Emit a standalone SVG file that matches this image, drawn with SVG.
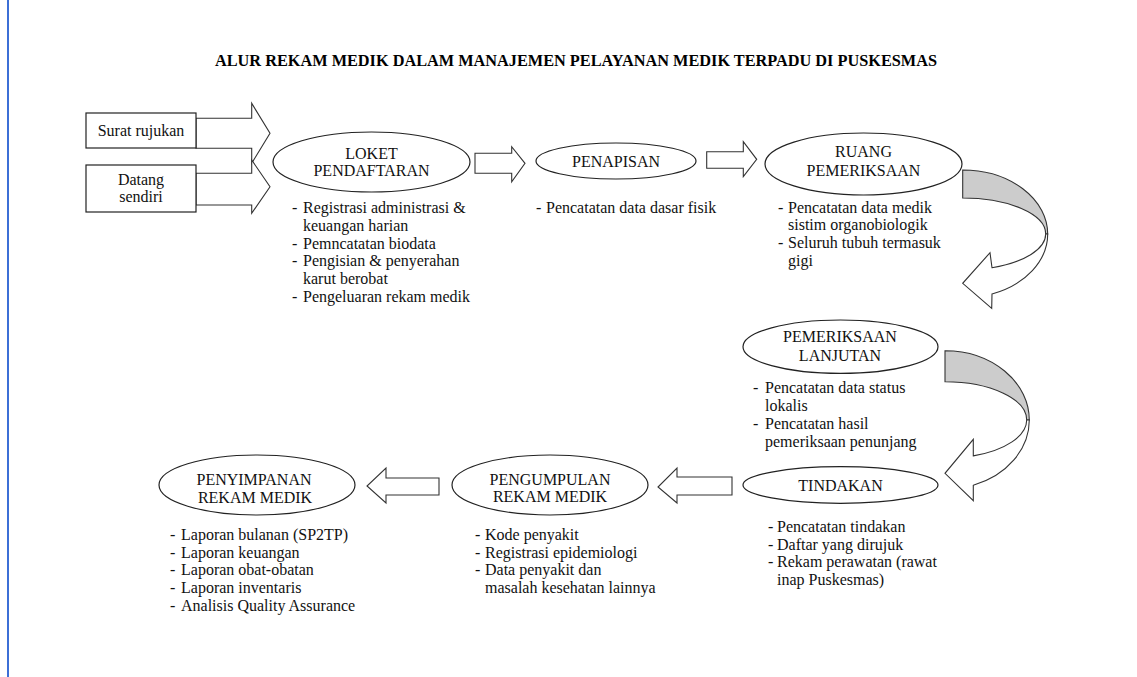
<svg xmlns="http://www.w3.org/2000/svg" width="1137" height="677" viewBox="0 0 1137 677">
<style>
  .bg { fill: #ffffff; }
  .t { font-family: "Liberation Serif", "Times New Roman", serif; font-size: 16px; fill: #111111; }
  .tc { font-family: "Liberation Serif", "Times New Roman", serif; font-size: 16px; fill: #111111; text-anchor: middle; }
  .title { font-family: "Liberation Serif", "Times New Roman", serif; font-size: 16px; font-weight: bold; fill: #000000; }
  .ell { fill: #ffffff; stroke: #222222; stroke-width: 1.2; }
  .box { fill: #ffffff; stroke: #222222; stroke-width: 1.2; }
  .arr { fill: #ffffff; stroke: #333333; stroke-width: 1.1; stroke-linejoin: miter; }
  .back { fill: #cccccc; stroke: #333333; stroke-width: 1.1; }
</style>
<rect class="bg" x="0" y="0" width="1137" height="677"/>
<line x1="8" y1="0" x2="8" y2="677" stroke="#3c6fd6" stroke-width="2"/>

<g id="title">
  <text class="title" x="215" y="66" textLength="722" lengthAdjust="spacingAndGlyphs">ALUR REKAM MEDIK DALAM MANAJEMEN PELAYANAN MEDIK TERPADU DI PUSKESMAS</text>
</g>

<g id="connectors">
  <polygon class="arr" points="196,118.3 251.7,118.3 251.7,103.3 270,133.3 251.7,163.3 251.7,148.3 196,148.3"/>
  <polygon class="arr" points="196,173.3 251.7,173.3 251.7,160 270,186.7 251.7,213.3 251.7,205 196,205"/>
  <polygon class="arr" points="475,153.3 511.7,153.3 511.7,146.7 525,163.3 511.7,181.7 511.7,173.3 475,173.3"/>
  <polygon class="arr" points="706.7,151.7 743.3,151.7 743.3,141.7 756.7,159.3 743.3,176.7 743.3,168.3 706.7,168.3"/>
  <path class="back" d="M962.7,170 A85,64 0 0 1 1047.7,234 L1045.7,234 A83,36 0 0 0 962.7,198 Z"/>
  <path class="arr" d="M1045.7,234 A83,36 0 0 1 992,267.7 L990,252.7 L962.7,283.3 L991.7,308.3 L992,294 A85,64 0 0 0 1047.7,234 Z"/>
  <path class="back" d="M945,350.7 A84.3,69.3 0 0 1 1029.3,420 L1026.7,420 A81.7,38.3 0 0 0 945,381.7 Z"/>
  <path class="arr" d="M1026.7,420 A81.7,38.3 0 0 1 973.3,455.9 L973.3,439.3 L945,473.3 L973.3,500.7 L973.3,485.3 A84.3,69.3 0 0 0 1029.3,420 Z"/>
  <polygon class="arr" points="732,477 677,477 677,468 658,487 677,503 677,495 732,495"/>
  <polygon class="arr" points="439,478 386,478 386,468 367,486 386,503 386,495 439,495"/>
</g>

<g id="node-surat-rujukan">
  <rect class="box" x="86" y="113" width="110" height="35"/>
  <text class="tc" x="141" y="135.5">Surat rujukan</text>
</g>

<g id="node-datang-sendiri">
  <rect class="box" x="86" y="165" width="110" height="47"/>
  <text class="tc" x="141" y="184.5">Datang</text>
  <text class="tc" x="141" y="202">sendiri</text>
</g>

<g id="node-loket">
  <ellipse class="ell" cx="371.5" cy="162" rx="98.5" ry="30"/>
  <text class="tc" x="371.5" y="159.3">LOKET</text>
  <text class="tc" x="371.5" y="176">PENDAFTARAN</text>
  <text class="t" x="292" y="213">-</text><text class="t" x="303" y="213">Registrasi administrasi &amp;</text>
  <text class="t" x="303" y="230.8">keuangan harian</text>
  <text class="t" x="292" y="248.6">-</text><text class="t" x="303" y="248.6">Pemncatatan biodata</text>
  <text class="t" x="292" y="266.4">-</text><text class="t" x="303" y="266.4">Pengisian &amp; penyerahan</text>
  <text class="t" x="303" y="284.2">karut berobat</text>
  <text class="t" x="292" y="302">-</text><text class="t" x="303" y="302">Pengeluaran rekam medik</text>
</g>

<g id="node-penapisan">
  <ellipse class="ell" cx="616" cy="161" rx="80" ry="18"/>
  <text class="tc" x="616" y="166.5">PENAPISAN</text>
  <text class="t" x="536" y="213">-</text><text class="t" x="546" y="213">Pencatatan data dasar fisik</text>
</g>

<g id="node-ruang">
  <ellipse class="ell" cx="863.5" cy="164" rx="98.5" ry="31"/>
  <text class="tc" x="863.5" y="157.3">RUANG</text>
  <text class="tc" x="863.5" y="176">PEMERIKSAAN</text>
  <text class="t" x="778" y="212.5">-</text><text class="t" x="788" y="212.5">Pencatatan data medik</text>
  <text class="t" x="788" y="230.3">sistim organobiologik</text>
  <text class="t" x="778" y="248.1">-</text><text class="t" x="788" y="248.1">Seluruh tubuh termasuk</text>
  <text class="t" x="788" y="265.9">gigi</text>
</g>

<g id="node-pemeriksaan-lanjutan">
  <ellipse class="ell" cx="840.5" cy="346.7" rx="97.5" ry="26.7"/>
  <text class="tc" x="840" y="342.3">PEMERIKSAAN</text>
  <text class="tc" x="840" y="361">LANJUTAN</text>
  <text class="t" x="753" y="393">-</text><text class="t" x="765" y="393">Pencatatan data status</text>
  <text class="t" x="765" y="411">lokalis</text>
  <text class="t" x="753" y="429">-</text><text class="t" x="765" y="429">Pencatatan hasil</text>
  <text class="t" x="765" y="447">pemeriksaan penunjang</text>
</g>

<g id="node-tindakan">
  <ellipse class="ell" cx="840.5" cy="485" rx="97.5" ry="18.3"/>
  <text class="tc" x="840.5" y="490.7">TINDAKAN</text>
  <text class="t" x="768" y="532">-</text><text class="t" x="777" y="532">Pencatatan tindakan</text>
  <text class="t" x="768" y="549.7">-</text><text class="t" x="777" y="549.7">Daftar yang dirujuk</text>
  <text class="t" x="768" y="567.4">-</text><text class="t" x="777" y="567.4">Rekam perawatan (rawat</text>
  <text class="t" x="777" y="585.1">inap Puskesmas)</text>
</g>

<g id="node-pengumpulan">
  <ellipse class="ell" cx="550" cy="485" rx="98" ry="30"/>
  <text class="tc" x="550" y="484.5">PENGUMPULAN</text>
  <text class="tc" x="550" y="502">REKAM MEDIK</text>
  <text class="t" x="475" y="540">-</text><text class="t" x="485" y="540">Kode penyakit</text>
  <text class="t" x="475" y="557.7">-</text><text class="t" x="485" y="557.7">Registrasi epidemiologi</text>
  <text class="t" x="475" y="575.4">-</text><text class="t" x="485" y="575.4">Data penyakit dan</text>
  <text class="t" x="485" y="593.1">masalah kesehatan lainnya</text>
</g>

<g id="node-penyimpanan">
  <ellipse class="ell" cx="257" cy="485" rx="98" ry="30"/>
  <text class="tc" x="254" y="484.5">PENYIMPANAN</text>
  <text class="tc" x="255" y="503">REKAM MEDIK</text>
  <text class="t" x="170" y="540">-</text><text class="t" x="181" y="540">Laporan bulanan (SP2TP)</text>
  <text class="t" x="170" y="557.7">-</text><text class="t" x="181" y="557.7">Laporan keuangan</text>
  <text class="t" x="170" y="575.4">-</text><text class="t" x="181" y="575.4">Laporan obat-obatan</text>
  <text class="t" x="170" y="593.1">-</text><text class="t" x="181" y="593.1">Laporan inventaris</text>
  <text class="t" x="170" y="610.8">-</text><text class="t" x="181" y="610.8">Analisis Quality Assurance</text>
</g>
</svg>
